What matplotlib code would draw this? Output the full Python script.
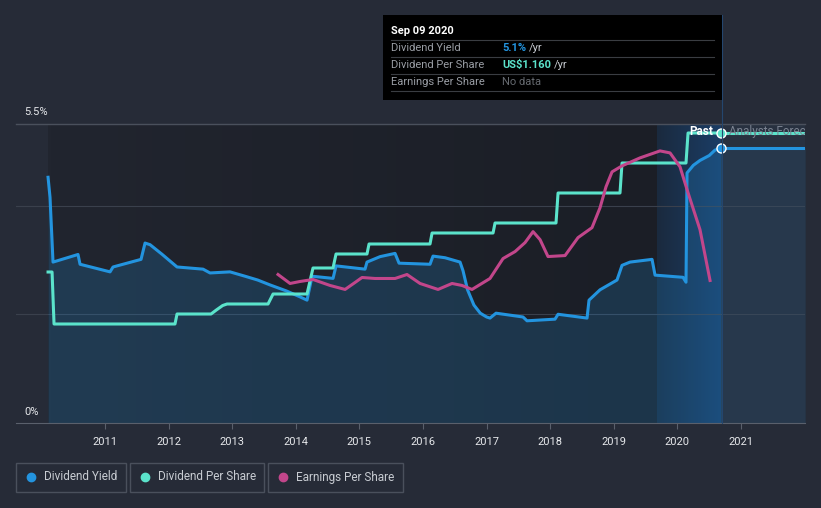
import numpy as np
import matplotlib
matplotlib.use("Agg")
import matplotlib.pyplot as plt
from matplotlib.patches import Rectangle
from matplotlib.colors import LinearSegmentedColormap
from matplotlib.lines import Line2D

plt.rcParams['font.family'] = ['Roboto', 'DejaVu Sans']

# ---- data (decimal years) ----
yield_x = [2010.104, 2010.135, 2010.182, 2010.575, 2010.607, 2011.079, 2011.126, 2011.566,
           2011.629, 2011.708, 2011.90, 2012.132, 2012.541, 2012.651, 2012.965, 2013.201,
           2013.40, 2013.594, 2013.85, 2014.066, 2014.176, 2014.255, 2014.585, 2014.632,
           2015.088, 2015.119, 2015.324, 2015.560, 2015.623, 2016.110, 2016.157, 2016.346,
           2016.582, 2016.629, 2016.70, 2016.80, 2016.90, 2017.00, 2017.053, 2017.148,
           2017.572, 2017.635, 2018.075, 2018.123, 2018.579, 2018.610, 2018.783, 2019.050,
           2019.129, 2019.255, 2019.601, 2019.648, 2020.088, 2020.135, 2020.151, 2020.25,
           2020.355, 2020.50, 2020.591, 2020.69]
yield_pct = [4.52, 4.15, 2.96, 3.10, 2.92, 2.78, 2.87, 3.01,
             3.31, 3.28, 3.10, 2.87, 2.83, 2.76, 2.78, 2.70,
             2.63, 2.54, 2.43, 2.32, 2.26, 2.70, 2.66, 2.89,
             2.83, 2.96, 3.06, 3.12, 2.94, 2.92, 3.07, 3.04,
             2.96, 2.80, 2.45, 2.17, 2.02, 1.95, 1.93, 2.02,
             1.95, 1.88, 1.91, 2.00, 1.93, 2.26, 2.45, 2.63,
             2.90, 2.96, 3.01, 2.72, 2.68, 2.59, 4.60, 4.74,
             4.83, 4.92, 5.02, 5.06]
yield_fc_x = [2020.69, 2022.1]
yield_fc = [5.06, 5.06]

dps_x = [2010.104, 2010.167, 2010.198, 2012.100, 2012.132, 2012.667, 2012.75, 2012.85,
         2012.918, 2013.563, 2013.642, 2014.176, 2014.270, 2014.585, 2014.632, 2015.119,
         2015.151, 2016.110, 2016.142, 2017.101, 2017.132, 2018.091, 2018.123, 2019.097,
         2019.129, 2020.135, 2020.167, 2020.69]
dps_usd = [0.604, 0.604, 0.396, 0.396, 0.436, 0.436, 0.452, 0.470,
           0.476, 0.476, 0.516, 0.516, 0.620, 0.620, 0.676, 0.676,
           0.716, 0.716, 0.760, 0.760, 0.800, 0.800, 0.920, 0.920,
           1.040, 1.040, 1.160, 1.160]
dps_fc_x = [2020.69, 2022.1]
dps_fc = [1.16, 1.16]

eps_x = [2013.72, 2013.909, 2014.066, 2014.270, 2014.538, 2014.774, 2014.931, 2015.041,
         2015.245, 2015.560, 2015.748, 2015.953, 2016.236, 2016.456, 2016.613, 2016.770,
         2017.053, 2017.258, 2017.447, 2017.604, 2017.730, 2017.840, 2017.965, 2018.233,
         2018.437, 2018.657, 2018.783, 2018.877, 2018.972, 2019.129, 2019.412, 2019.726,
         2019.884, 2020.041, 2020.167, 2020.355, 2020.513]
eps_usd = [1.49, 1.40, 1.42, 1.44, 1.38, 1.34, 1.41, 1.46,
           1.45, 1.45, 1.49, 1.40, 1.34, 1.40, 1.38, 1.34,
           1.45, 1.65, 1.72, 1.81, 1.92, 1.84, 1.67, 1.68,
           1.86, 1.96, 2.16, 2.37, 2.52, 2.58, 2.66, 2.73,
           2.71, 2.57, 2.31, 1.94, 1.43]

years = list(range(2011, 2022))
data_start = 2010.104
past_start = 2019.68
now = 2020.69

BG = '#262b37'
BLUE = '#2394df'
TEAL = '#5be3cb'
MAG = '#c2468b'

W, H = 821, 508
fig = plt.figure(figsize=(W / 100, H / 100), dpi=100, facecolor=BG)
ax = fig.add_axes([16 / W, 1 - 423 / H, (805 - 16) / W, (423 - 124) / H])
ax.set_facecolor(BG)
x0, x1 = 2009.60, 2022.006

# background bands
dark = LinearSegmentedColormap.from_list('d', ['#21252f', '#1b1e26'])
ax.imshow(np.linspace(0, 1, 200).reshape(1, -1), cmap=dark, aspect='auto',
          extent=[data_start, past_start, 0, 5.5], zorder=0)
hl = LinearSegmentedColormap.from_list('h', ['#1b2a3e', '#1a3d66'])
ax.imshow(np.linspace(0, 1, 200).reshape(1, -1), cmap=hl, aspect='auto',
          extent=[past_start, now, 0, 5.5], zorder=0)
ax.axvspan(now, x1, color='#283140', lw=0, zorder=0)
ax.set_xlim(x0, x1)
ax.set_ylim(0, 5.5)

# grid
for g in [2, 4]:
    ax.axhline(g, color='#3a404c', lw=0.8, zorder=1)
ax.axhline(5.5, color='#4a505c', lw=1, zorder=1, clip_on=False)

# dividend yield
ax.fill_between(yield_x, yield_pct, 0, color=BLUE, alpha=0.2, lw=0, zorder=1)
ax.fill_between(yield_fc_x, yield_fc, 0, color=BLUE, alpha=0.08, lw=0, zorder=1)
ax.plot(yield_x, yield_pct, color=BLUE, lw=2.2, zorder=4, solid_joinstyle='round')
ax.plot(yield_fc_x, yield_fc, color=BLUE, lw=2.2, zorder=4)

# dividend per share
ax2 = ax.twinx()
ax2.set_ylim(0, 1.196)
ax2.plot(dps_x, dps_usd, color=TEAL, lw=2.2, zorder=4, solid_joinstyle='round')
ax2.plot(dps_fc_x, dps_fc, color=TEAL, lw=2.2, zorder=4)

# earnings per share
ax3 = ax.twinx()
ax3.set_ylim(0, 3.0)
ax3.plot(eps_x, eps_usd, color=MAG, lw=2.2, zorder=4, solid_joinstyle='round')

ax3.plot([now], [1.16 / 1.196 * 3.0], 'o', ms=6.5, color=TEAL, mec='white', mew=1, zorder=6, clip_on=False)
ax3.plot([now], [5.06 / 5.5 * 3.0], 'o', ms=6.5, color=BLUE, mec='white', mew=1, zorder=6, clip_on=False)

for a in (ax, ax2, ax3):
    for s in a.spines.values():
        s.set_visible(False)
    a.set_yticks([])
ax.set_xlim(x0, x1)
ax.spines['bottom'].set_visible(True)
ax.spines['bottom'].set_color('#5a606c')
ax.set_xticks(years)
ax.set_xticklabels([str(y) for y in years])
ax.tick_params(axis='x', colors='#5a606c', labelcolor='#e6e8eb', labelsize=8, length=4, pad=6)


def fy(y):
    return 1 - y / H


fig.text(24 / W, fy(112), '5.5%', ha='left', va='center', color='#e6e8eb', fontsize=8)
fig.text(24 / W, fy(412), '0%', ha='left', va='center', color='#e6e8eb', fontsize=8)

ax3.text(now - 0.13, 2.92, 'Past', ha='right', va='center', color='white', fontsize=8.5,
         fontweight='bold', zorder=7)
ax3.text(now + 0.12, 2.92, 'Analysts Forecasts', ha='left', va='center', color='#7a8290',
         fontsize=8.5, zorder=7, clip_on=True)

# vertical marker line
fig.add_artist(Line2D([722 / W, 722 / W], [fy(15), fy(423)], color='#24466e', lw=0.8, zorder=2))

# tooltip
fig.add_artist(Rectangle((383 / W, fy(100)), (722 - 383) / W, 85 / H, transform=fig.transFigure,
                         facecolor='black', edgecolor='none', zorder=8))
fig.text(391 / W, fy(31), 'Sep 09 2020', color='white', fontsize=8, fontweight='bold',
         va='center', zorder=9)
rows = [('Dividend Yield', '5.1%', BLUE), ('Dividend Per Share', 'US$1.160', TEAL),
        ('Earnings Per Share', 'No data', '#666a70')]
for i, (lab, val, col) in enumerate(rows):
    yy = 48 + 17 * i
    fig.add_artist(Line2D([391 / W, 714 / W], [fy(yy - 8), fy(yy - 8)], color='#3a3d42', lw=0.8, zorder=9))
    fig.text(391 / W, fy(yy), lab, color='#9a9ea5', fontsize=8, va='center', zorder=9)
    t = fig.text(502 / W, fy(yy), val, color=col, fontsize=8, va='center', zorder=9,
                 fontweight='bold' if i < 2 else 'normal')
    if i < 2:
        fig.canvas.draw()
        bb = t.get_window_extent()
        fig.text(bb.x1 / W + 3 / W, fy(yy), '/yr', color='#c8ccd2', fontsize=8, va='center', zorder=9)
fig.add_artist(Line2D([391 / W, 714 / W], [fy(91), fy(91)], color='#3a3d42', lw=0.8, zorder=9))

# legend boxes
legend = [('Dividend Yield', BLUE, 16, 126), ('Dividend Per Share', TEAL, 130, 264),
          ('Earnings Per Share', MAG, 268, 403)]
for lab, col, xa, xb in legend:
    fig.add_artist(Rectangle((xa / W, fy(492)), (xb - xa) / W, 29 / H, transform=fig.transFigure,
                             facecolor='none', edgecolor='#4a505c', lw=1))
    fig.add_artist(Line2D([(xa + 15) / W], [fy(477)], marker='o', ms=6, color=col, lw=0))
    fig.text((xa + 28) / W, fy(477), lab, color='#c8ccd2', fontsize=8.5, va='center')

fig.savefig('out.png', dpi=100, facecolor=BG)
